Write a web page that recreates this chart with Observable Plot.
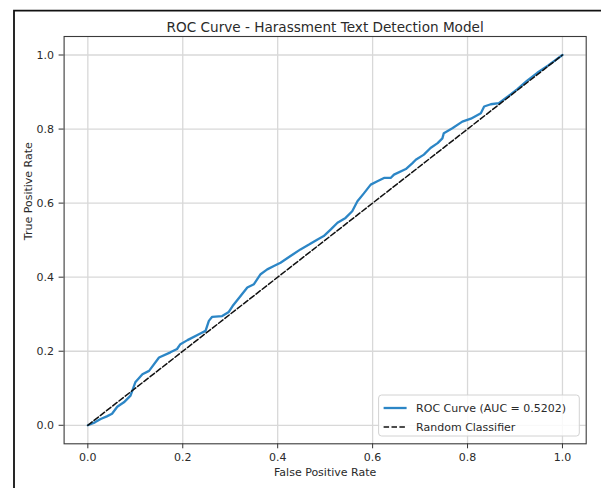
<!DOCTYPE html>
<html>
<head>
<meta charset="utf-8">
<script src="https://cdn.jsdelivr.net/npm/d3@7"></script>
<script src="https://cdn.jsdelivr.net/npm/@observablehq/plot@0.6"></script>
<style>
  html, body { margin: 0; padding: 0; background: #fff; }
  svg { display: block; }
</style>
</head>
<body>
<div id="chart"></div>
<script>
// ---- Data ----
const fpr = [0, 0.015, 0.027, 0.04, 0.051, 0.062, 0.076, 0.09, 0.10, 0.115, 0.129, 0.15, 0.174, 0.188, 0.195, 0.21, 0.234, 0.248, 0.255, 0.262, 0.283, 0.297, 0.305, 0.318, 0.336, 0.35, 0.364, 0.378, 0.392, 0.406, 0.427, 0.448, 0.466, 0.484, 0.497, 0.512, 0.526, 0.543, 0.557, 0.568, 0.582, 0.596, 0.61, 0.624, 0.638, 0.645, 0.67, 0.684, 0.691, 0.708, 0.722, 0.737, 0.747, 0.75, 0.768, 0.789, 0.807, 0.828, 0.835, 0.849, 0.866, 0.885, 0.905, 0.925, 0.947, 0.97, 1];
const tpr = [0, 0.008, 0.017, 0.024, 0.031, 0.05, 0.062, 0.08, 0.116, 0.138, 0.147, 0.183, 0.197, 0.206, 0.219, 0.23, 0.246, 0.255, 0.282, 0.293, 0.295, 0.306, 0.322, 0.343, 0.372, 0.381, 0.408, 0.421, 0.43, 0.439, 0.457, 0.475, 0.488, 0.502, 0.511, 0.529, 0.547, 0.56, 0.578, 0.605, 0.627, 0.65, 0.659, 0.668, 0.668, 0.677, 0.692, 0.708, 0.717, 0.731, 0.749, 0.762, 0.775, 0.789, 0.802, 0.82, 0.828, 0.843, 0.861, 0.867, 0.87, 0.888, 0.908, 0.93, 0.952, 0.972, 1];
const randomX = [0, 1];
const randomY = [0, 1];
const xTicks = [0, 0.2, 0.4, 0.6, 0.8, 1.0];
const yTicks = [0, 0.2, 0.4, 0.6, 0.8, 1.0];
const titleText = "ROC Curve - Harassment Text Detection Model";
const xLabel = "False Positive Rate";
const yLabel = "True Positive Rate";
const legendLabels = ["ROC Curve (AUC = 0.5202)", "Random Classifier"];

// ---- Tables built from arrays ----
const roc = fpr.map((x, i) => ({x, y: tpr[i]}));
const diag = randomX.map((x, i) => ({x, y: randomY[i]}));

const W = 601, H = 488;
const mL = 63.6, mR = 15.3, mT = 36, mB = 44.7;
const blue = "#2c86c6";
const font = "DejaVu Sans, sans-serif";
const fmt = d3.format(".1f");

const chart = Plot.plot({
  width: W, height: H,
  marginLeft: mL, marginRight: mR, marginTop: mT, marginBottom: mB,
  style: {fontFamily: font, fontSize: "11px", color: "#2a2a2a", background: "#fff"},
  x: {domain: [-0.05, 1.05]},
  y: {domain: [-0.05, 1.05]},
  marks: [
    Plot.gridX(xTicks, {stroke: "#d8d8d8", strokeOpacity: 1, strokeWidth: 1.3}),
    Plot.gridY(yTicks, {stroke: "#d8d8d8", strokeOpacity: 1, strokeWidth: 1.3}),
    Plot.axisX(xTicks, {tickSize: 5, tickPadding: 4, tickFormat: fmt, label: null, stroke: "#333"}),
    Plot.axisY(yTicks, {tickSize: 5, tickPadding: 5, tickFormat: fmt, label: null, stroke: "#333"}),
    Plot.line(roc, {x: "x", y: "y", stroke: blue, strokeWidth: 2.3, strokeLinejoin: "round"}),
    Plot.line(diag, {x: "x", y: "y", stroke: "#111", strokeWidth: 1.5, strokeDasharray: "5.5,2.4"}),
    Plot.frame({stroke: "#3a3a3a", strokeWidth: 1.1}),
    Plot.text([titleText], {text: d => d, frameAnchor: "top", dy: -14, fontSize: 13.6, fill: "#2a2a2a"}),
    Plot.text([xLabel], {text: d => d, frameAnchor: "bottom", dy: 32.4, fontSize: 11, fill: "#2a2a2a"}),
    Plot.text([yLabel], {text: d => d, frameAnchor: "left", dx: -35.6, rotate: -90, fontSize: 11, fill: "#2a2a2a"})
  ]
});

// ---- Legend (lower right, inside the frame) ----
const svg = d3.select(chart);
const frameRight = W - mR, frameBottom = H - mB;
const lgW = 200.7, lgH = 41;
const lgX = frameRight - 6.4 - lgW, lgY = frameBottom - 7.3 - lgH;
const lg = svg.append("g").attr("font-family", font).attr("font-size", 11).attr("text-anchor", "start");
lg.append("rect").attr("x", lgX).attr("y", lgY).attr("width", lgW).attr("height", lgH)
  .attr("rx", 3).attr("fill", "#fff").attr("fill-opacity", 0.85).attr("stroke", "#d2d2d2").attr("stroke-width", 1);
const rowY = [lgY + 13, lgY + 32];
lg.append("line").attr("x1", lgX + 5).attr("x2", lgX + 28).attr("y1", rowY[0]).attr("y2", rowY[0])
  .attr("stroke", blue).attr("stroke-width", 2.3);
lg.append("line").attr("x1", lgX + 5).attr("x2", lgX + 28).attr("y1", rowY[1]).attr("y2", rowY[1])
  .attr("stroke", "#111").attr("stroke-width", 1.5).attr("stroke-dasharray", "5.5,2.4");
legendLabels.forEach((t, i) => {
  lg.append("text").attr("x", lgX + 37.5).attr("y", rowY[i]).attr("dy", "0.35em")
    .attr("text-anchor", "start").attr("fill", "#2a2a2a").text(t);
});

// ---- Figure border (left and top edges visible) ----
svg.append("path").attr("d", `M14,${H} V10.7 H${W}`).attr("fill", "none")
  .attr("stroke", "#111").attr("stroke-width", 1.8);

document.getElementById("chart").appendChild(chart);
</script>
</body>
</html>
